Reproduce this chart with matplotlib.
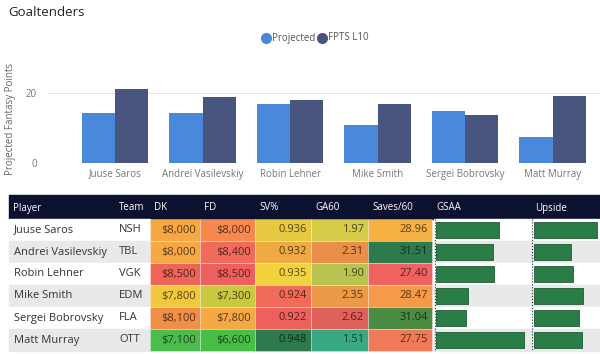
import matplotlib
matplotlib.use("Agg")
import matplotlib.pyplot as plt
from matplotlib.patches import Rectangle
from matplotlib.lines import Line2D
import numpy as np

plt.rcParams['font.family'] = ['Open Sans', 'DejaVu Sans']

# chart data
players = ["Juuse Saros", "Andrei Vasilevskiy", "Robin Lehner",
           "Mike Smith", "Sergei Bobrovsky", "Matt Murray"]
projected = [14.3, 14.4, 16.9, 10.9, 14.8, 7.4]
fpts_l10 = [21.1, 18.9, 18.0, 17.0, 13.6, 19.1]

# table data
teams = ["NSH", "TBL", "VGK", "EDM", "FLA", "OTT"]
dk = ["$8,000", "$8,000", "$8,500", "$7,800", "$8,100", "$7,100"]
fd = ["$8,000", "$8,400", "$8,500", "$7,300", "$7,800", "$6,600"]
sv_pct = ["0.936", "0.932", "0.935", "0.924", "0.922", "0.948"]
ga60 = ["1.97", "2.31", "1.90", "2.35", "2.62", "1.51"]
saves60 = ["28.96", "31.51", "27.40", "28.47", "31.04", "27.75"]
gsaa = [6.3, 5.7, 5.8, 3.2, 3.0, 8.8]
upside = [6.3, 3.7, 3.9, 4.9, 4.5, 4.8]

headers = ["Player", "Team", "DK", "FD", "SV%", "GA60", "Saves/60", "GSAA", "Upside"]

# conditional formatting colours (style)
cell_colors = {
    "DK": ["#f5a843", "#f5a843", "#ee6459", "#f1c83e", "#f18e48", "#4cbd4c"],
    "FD": ["#f6894d", "#f06b5b", "#ee605d", "#c9c940", "#f5a843", "#47bf47"],
    "SV%": ["#e6c842", "#f0aa44", "#f2d23e", "#f06b5a", "#ee605d", "#2e7a4c"],
    "GA60": ["#d6cc48", "#e98f4a", "#b9c350", "#ec9a48", "#df625a", "#38a982"],
    "Saves/60": ["#f5b242", "#2e7a4c", "#f06260", "#f59a48", "#4b8b42", "#f07a58"],
}


def darken(c, f=0.35):
    rgb = np.array(matplotlib.colors.to_rgb(c))
    return tuple(rgb * f)


W, H = 600, 354
fig = plt.figure(figsize=(W / 100, H / 100), dpi=100)

# overlay in pixel coords for title, legend and table
ov = fig.add_axes([0, 0, 1, 1])
ov.set_xlim(0, W)
ov.set_ylim(H, 0)
ov.axis('off')

ov.text(8, 13, "Goaltenders", fontsize=9.5, color="#252423", va='center', ha='left')

# legend
c_proj, c_fpts = "#4a88dc", "#48557f"
ov.add_line(Line2D([266], [38], marker='o', markersize=7, color=c_proj, ls='none'))
ov.text(272, 38, "Projected", fontsize=7, color="#555", va='center')
ov.add_line(Line2D([322], [38], marker='o', markersize=7, color=c_fpts, ls='none'))
ov.text(328, 38, "FPTS L10", fontsize=7, color="#555", va='center')

# bar chart
ax = fig.add_axes([48 / W, 1 - 163 / H, 552 / W, 87.5 / H])
x = np.arange(len(players))
bw = 0.38
ax.bar(x - bw / 2, projected, bw, color=c_proj, zorder=3)
ax.bar(x + bw / 2, fpts_l10, bw, color=c_fpts, zorder=3)
ax.set_xlim(-0.766, 5.54)
ax.set_ylim(0, 25)
ax.set_yticks([0, 20])
ax.set_xticks(x)
ax.set_xticklabels(players)
ax.tick_params(length=0, labelsize=7, colors="#777", pad=4)
ax.tick_params(axis='y', pad=8)
ax.grid(axis='y', color="#e6e6e6", lw=0.8, zorder=0)
for s in ax.spines.values():
    s.set_visible(False)
ax.set_ylabel("Projected Fantasy Points", fontsize=7, color="#666", labelpad=7)

# table
col_l = [9, 115, 150, 200, 255, 311, 368, 432, 531]
col_r = [115, 150, 200, 255, 311, 368, 432, 531, 600]
hdr_top, hdr_h = 195, 24
row_top, row_h = 219, 22

ov.add_patch(Rectangle((9, hdr_top), W - 9, hdr_h, color="#0d1130"))
for name, l in zip(headers, col_l):
    ov.text(l + 4, hdr_top + hdr_h / 2 + 1, name, fontsize=7, color="white", va='center')

values = {"DK": dk, "FD": fd, "SV%": sv_pct, "GA60": ga60, "Saves/60": saves60}

for i in range(len(players)):
    y0 = row_top + i * row_h
    yc = y0 + row_h / 2
    bg = "#e8e9eb" if i % 2 else "white"
    ov.add_patch(Rectangle((9, y0), 150 - 9, row_h, color=bg))
    ov.add_patch(Rectangle((434, y0), W - 434, row_h, color=bg))
    ov.text(14, yc, players[i], fontsize=8, color="#333", va='center')
    ov.text(119, yc, teams[i], fontsize=8, color="#333", va='center')
    for j, name in enumerate(headers[2:7]):
        l, r = col_l[j + 2], col_r[j + 2]
        c = cell_colors[name][i]
        ov.add_patch(Rectangle((l, y0), r - l, row_h, facecolor=c,
                               edgecolor=(1, 1, 1, 0.35), lw=0.6))
        ov.text(r - 4, yc, values[name][i], fontsize=8, color=darken(c),
                va='center', ha='right')

ov.plot([435, 435], [row_top, row_top + 6 * row_h], ls=':', color="#333", lw=0.8)
ov.plot([532, 532], [row_top, row_top + 6 * row_h], ls=':', color="#333", lw=0.8)

# data bars in GSAA and Upside columns
bar_green = "#2a7d46"
for vals, left, width, vmax in [(gsaa, 436, 94, 9.4), (upside, 534, 66, 6.6)]:
    bx = fig.add_axes([left / W, 1 - (row_top + 6 * row_h) / H, width / W, 6 * row_h / H])
    bx.barh(np.arange(len(vals)), vals, height=0.7, color=bar_green,
            edgecolor="#1f5a33", lw=0.6)
    bx.set_ylim(5.5, -0.5)
    bx.set_xlim(0, vmax)
    bx.axis('off')
    bx.patch.set_alpha(0)

fig.savefig("out.png", dpi=100)
